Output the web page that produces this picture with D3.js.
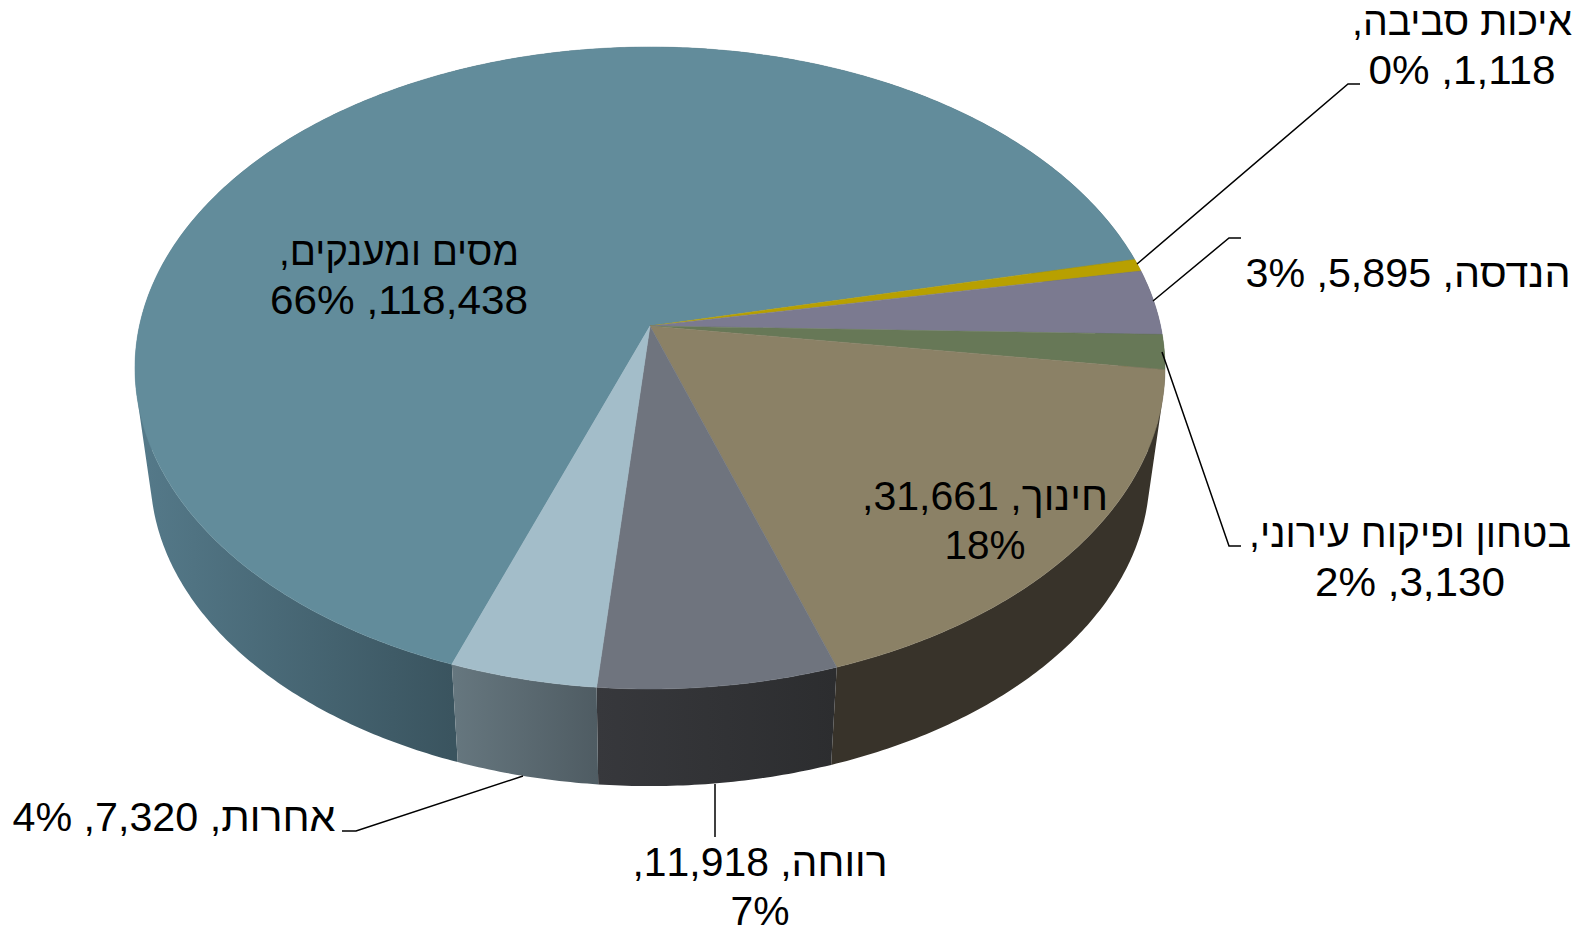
<!DOCTYPE html>
<html>
<head>
<meta charset="utf-8">
<script src="https://cdn.jsdelivr.net/npm/d3@7"></script>
<style>
  html, body { margin: 0; padding: 0; background: white; }
  svg { display: block; }
</style>
</head>
<body>
<div id="container"></div>
<script>
let w = 1594;
let h = 928;

// DATA (clockwise, starting with the big slice)
let categories = ["מסים ומענקים", "איכות סביבה", "הנדסה", "בטחון ופיקוח עירוני", "חינוך", "רווחה", "אחרות"];
let values = [118438, 1118, 5895, 3130, 31661, 11918, 7320];
let percents = [66, 0, 3, 2, 18, 7, 4];

// COLORS
let topColors = ["#628c9b", "#b8a000", "#7b7a90", "#677857", "#8b8166", "#6f747e", "#a3bdc9"];
let sideLeft = ["#557a8a", "#6e6000", "#4a4956", "#3e4834", "#38332a", "#37383c", "#66777f"];
let sideRight = ["#3a545f", "#6e6000", "#4a4956", "#3e4834", "#38332a", "#2c2d2f", "#4f5c63"];

// LABEL LAYOUT: centre x, first baseline, how many parts go on line one,
// and the width of each line (the reference text is a bit stretched sideways)
let labelX = [399, 1462, 1408, 1410, 985, 760, 174];
let labelY = [265, 35, 287, 547, 510, 876, 831];
let labelBreak = [1, 1, 3, 1, 2, 2, 3];
let lineWidths = [[240, 258], [220, 187], [325], [322, 190], [246, 81], [255, 59], [323]];
let lineHeight = 49;
let fontSize = 40;

// leader lines
let leaders = [
  null,
  [[1137, 264], [1348, 84], [1360, 84]],
  [[1153, 301], [1229, 238], [1241, 238]],
  [[1162, 352], [1229, 546], [1241, 546]],
  null,
  [[715, 784], [715, 837]],
  [[523, 776], [356, 831], [342, 831]]
];

// PIE GEOMETRY: d3.pie gives true angles, then a perspective tilt turns the
// circle into an ellipse with the apex above the ellipse centre
let tilt = 0.1308;
let radiusX = 510.6;
let radiusY = 315.5;
let apexX = 650;
let apexTop = 326;
let apexBottom = 434;
let bottomScale = 0.97;
let startDeg = -160.1;

function project(angle, apexY, scale){
  let u = Math.sin(angle);
  let v = -Math.cos(angle);
  let k = 1 / (1 - tilt * v);
  return [apexX + scale * radiusX * u * k, apexY + scale * radiusY * v * k];
}

// sample an arc into points
function arcPoints(a0, a1, apexY, scale){
  let n = Math.max(2, Math.ceil((a1 - a0) / 0.01));
  return d3.range(n + 1).map(function(i){
    return project(a0 + (a1 - a0) * i / n, apexY, scale);
  });
}

let pie = d3.pie().sort(null)
  .startAngle(startDeg * Math.PI / 180)
  .endAngle((startDeg + 360) * Math.PI / 180);
let slices = pie(values);
let lineMaker = d3.line();

// SVG
let viz = d3.select("#container").append("svg")
  .attr("width", w)
  .attr("height", h)
  .style("background-color", "white");

let defs = viz.append("defs");
slices.forEach(function(d, i){
  // wall shading runs left to right across the visible part of the slice
  let xs = arcPoints(d.startAngle, d.endAngle, apexTop, 1).map(function(p){ return p[0]; });
  let grad = defs.append("linearGradient")
    .attr("id", "side" + i)
    .attr("gradientUnits", "userSpaceOnUse")
    .attr("x1", d3.min(xs)).attr("x2", project(d.startAngle, apexTop, 1)[0])
    .attr("y1", 0).attr("y2", 0);
  grad.append("stop").attr("offset", 0).attr("stop-color", sideLeft[i]);
  grad.append("stop").attr("offset", 1).attr("stop-color", sideRight[i]);
});

// WALLS: one quad per arc step, all wound the same way so they add up
// (a plain upper+lower outline would lose the tangent edge at the sides)
function wallPath(d){
  let upper = arcPoints(d.startAngle, d.endAngle, apexTop, 1);
  let lower = arcPoints(d.startAngle, d.endAngle, apexBottom, bottomScale);
  return d3.range(upper.length - 1).map(function(i){
    let quad = [upper[i], upper[i + 1], lower[i + 1], lower[i]];
    if(d3.polygonArea(quad) < 0){
      quad.reverse();
    }
    return lineMaker(quad) + "Z";
  }).join("");
}

viz.selectAll(".wall").data(slices).enter()
  .append("path")
  .attr("class", "wall")
  .attr("d", wallPath)
  .attr("fill", function(d, i){ return "url(#side" + i + ")"; });

// TOP FACES
viz.selectAll(".slice").data(slices).enter()
  .append("path")
  .attr("class", "slice")
  .attr("d", function(d){
    return lineMaker([[apexX, apexTop]].concat(arcPoints(d.startAngle, d.endAngle, apexTop, 1))) + "Z";
  })
  .attr("fill", function(d, i){ return topColors[i]; })
  .attr("stroke", function(d, i){ return topColors[i]; })
  .attr("stroke-width", 0.5);

// LEADER LINES
viz.selectAll(".leader").data(leaders.filter(function(d){ return d != null; })).enter()
  .append("path")
  .attr("class", "leader")
  .attr("d", function(d){ return lineMaker(d); })
  .attr("fill", "none")
  .attr("stroke", "black")
  .attr("stroke-width", 1.5);

// LABELS
let fmt = d3.format(",");
categories.forEach(function(d, i){
  let parts = [d + ",", fmt(values[i]) + ",", percents[i] + "%"];
  let lines = [parts.slice(0, labelBreak[i]).join(" "), parts.slice(labelBreak[i]).join(" ")];
  // line two of an unbroken label is empty
  lines.filter(function(l){ return l != ""; }).forEach(function(l, j){
    viz.append("text")
      .attr("class", "label")
      .attr("direction", "rtl")
      .attr("text-anchor", "middle")
      .attr("font-family", "'Liberation Sans', Arial, sans-serif")
      .attr("font-size", fontSize)
      .attr("fill", "black")
      .attr("x", labelX[i])
      .attr("y", labelY[i] + j * lineHeight)
      .attr("textLength", lineWidths[i][j])
      .attr("lengthAdjust", "spacingAndGlyphs")
      .text(l);
  });
});
</script>
</body>
</html>
